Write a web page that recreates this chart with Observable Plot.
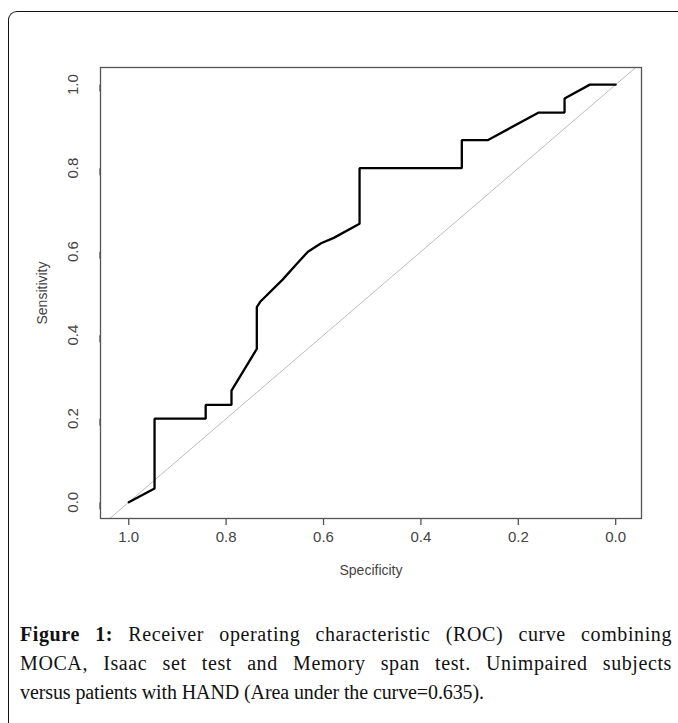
<!DOCTYPE html>
<html>
<head>
<meta charset="utf-8">
<script src="https://cdn.jsdelivr.net/npm/d3@7"></script>
<script src="https://cdn.jsdelivr.net/npm/@observablehq/plot@0.6"></script>
<style>
  html, body { margin: 0; padding: 0; background: #fff; width: 678px; height: 723px; overflow: hidden; }
  #box { position: absolute; left: 8px; top: 11px; width: 700px; height: 740px;
         border-top: 1.5px solid #111; border-left: 1.5px solid #111; border-top-left-radius: 9px; }
  #chart { position: absolute; left: 0; top: 0; }
  #chart svg g[aria-label="x-axis tick label"] text, #chart svg g[aria-label="y-axis tick label"] text { font-size: 15px; }
  #chart svg g[aria-label="x-axis label"], #chart svg g[aria-label="y-axis label"] { font-size: 14px; }
  #caption { position: absolute; left: 20px; top: 620px; width: 652px;
             font-family: "Liberation Serif", "Times New Roman", serif; font-size: 20px; line-height: 29px; color: #111; }
  #caption .l { text-align: justify; text-align-last: justify; white-space: nowrap; letter-spacing: 0.6px; }
  #caption .last { text-align: left; letter-spacing: -0.1px; }
  #caption b { font-weight: bold; }
</style>
</head>
<body>
<div id="box"></div>
<div id="chart"></div>
<div id="caption">
  <div class="l"><b>Figure 1:</b> Receiver operating characteristic (ROC) curve combining</div>
  <div class="l">MOCA, Isaac set test and Memory span test. Unimpaired subjects</div>
  <div class="last">versus patients with HAND (Area under the curve=0.635).</div>
</div>
<script>
// ROC curve points (specificity, sensitivity)
const specificity = [1, 0.947, 0.947, 0.842, 0.842, 0.789, 0.789, 0.737, 0.737, 0.730, 0.684, 0.658, 0.632, 0.605, 0.579, 0.526, 0.526, 0.316, 0.316, 0.263, 0.158, 0.105, 0.105, 0.053, 0];
const sensitivity = [0, 0.033, 0.2, 0.2, 0.233, 0.233, 0.267, 0.367, 0.467, 0.48, 0.533, 0.567, 0.6, 0.62, 0.633, 0.667, 0.8, 0.8, 0.867, 0.867, 0.933, 0.933, 0.967, 1, 1];
// chance (reference) line
const chanceSpec = [1.2, -0.2];
const chanceSens = [-0.2, 1.2];
// tick labels
const xTicks = [1.0, 0.8, 0.6, 0.4, 0.2, 0.0];
const yTicks = [0.0, 0.2, 0.4, 0.6, 0.8, 1.0];

const roc = specificity.map((s, i) => ({spec: s, sens: sensitivity[i]}));
const chance = chanceSpec.map((s, i) => ({spec: s, sens: chanceSens[i]}));

const fmt = d3.format(".1f");
const chart = Plot.plot({
  width: 678,
  height: 580,
  marginLeft: 100,
  marginRight: 37,
  marginTop: 67,
  marginBottom: 62,
  style: {fontFamily: "'Liberation Sans', Arial, sans-serif", color: "#444", background: "transparent"},
  x: {domain: [1.058, -0.053]},
  y: {domain: [-0.039, 1.041]},
  marks: [
    Plot.line(chance, {x: "spec", y: "sens", stroke: "#bdbdbd", strokeWidth: 1, clip: true}),
    Plot.line(roc, {x: "spec", y: "sens", stroke: "#000", strokeWidth: 2.3, strokeLinejoin: "miter", curve: "linear"}),
    Plot.frame({stroke: "#555", strokeWidth: 1.3}),
    Plot.axisX({ticks: xTicks, tickFormat: fmt, tickSize: 7, tickPadding: 6, stroke: "#555", strokeWidth: 1.3,
                label: "Specificity", labelAnchor: "center", labelArrow: "none", labelOffset: 56, fill: "#444"}),
    Plot.axisY({ticks: yTicks, tickFormat: fmt, tickSize: 7, tickPadding: 20, rotate: -90, textAnchor: "middle",
                stroke: "#555", strokeWidth: 1.3,
                label: "Sensitivity", labelAnchor: "center", labelArrow: "none", labelOffset: 63, fill: "#444"})
  ]
});
document.getElementById("chart").appendChild(chart);
</script>
</body>
</html>
